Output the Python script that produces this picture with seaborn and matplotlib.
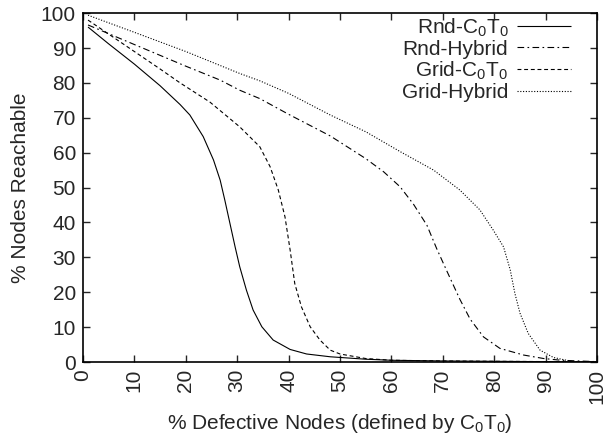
import matplotlib
matplotlib.use("Agg")
import matplotlib.pyplot as plt
import seaborn as sns
import pandas as pd

# ---- data ----
rnd_c0t0_x = [1, 5, 10, 15, 18.9, 20.8, 23.4, 25.4, 26.7, 27.6, 28.6, 29.6, 30.5, 31.8, 33.1,
              34.8, 37.0, 40.3, 43.5, 48.1, 55, 60, 70, 80, 90, 100]
rnd_c0t0_y = [96, 91.2, 85.4, 79.2, 73.8, 70.8, 64.6, 57.9, 52.1, 46.4, 39.7, 33.0, 27.3, 20.6, 14.9,
              10.1, 6.3, 3.6, 2.3, 1.5, 0.8, 0.5, 0.3, 0.2, 0.1, 0.05]

rnd_hyb_x = [1, 10, 20, 26.7, 30.5, 34.4, 40, 48.1, 55, 58.5, 61.7, 64.3, 66.9, 68.8, 70.8, 73.3,
             75.3, 77.9, 81.1, 85.7, 89.6, 93, 100]
rnd_hyb_y = [96.6, 91, 84.8, 80.8, 77.9, 75.5, 71, 64.8, 58.3, 54.5, 50.2, 45.2, 39.2, 32.5, 26.0, 18.0,
             12.3, 7.2, 3.9, 2.0, 1.0, 0.5, 0.1]

grid_c0t0_x = [1, 5, 10, 15, 18.9, 24.7, 30.5, 34.4, 36.4, 38.0, 39.3, 40.3, 41.2, 42.5, 44.2,
               46.1, 48.1, 50, 55, 60, 70, 80, 100]
grid_c0t0_y = [98, 94, 89, 84, 80, 74.5, 67.4, 61.7, 56.0, 49.3, 41.6, 32.1, 22.5, 15.8, 10.1,
               6.3, 3.4, 2.3, 1.0, 0.5, 0.3, 0.2, 0.05]

grid_hyb_x = [1, 10, 20, 30.5, 34.4, 40, 48.1, 55, 61.7, 68.2, 73.3, 77.2, 79.8, 81.8, 83.1,
              84.0, 85.0, 86.6, 88.9, 91.5, 95.3, 100]
grid_hyb_y = [99.4, 94.5, 89, 82.7, 80.6, 77, 70.8, 66, 60.3, 55.0, 49.3, 43.6, 37.8, 33.0, 26.4,
              19.7, 14.0, 8.2, 3.4, 1.3, 0.1, 0.0]

labels = ["Rnd-C$_0$T$_0$", "Rnd-Hybrid", "Grid-C$_0$T$_0$", "Grid-Hybrid"]
x_ticks = list(range(0, 101, 10))
y_ticks = list(range(0, 101, 10))

# ---- style ----
sns.set_style("ticks")
plt.rcParams["font.family"] = ["Liberation Sans", "DejaVu Sans"]
plt.rcParams["mathtext.fontset"] = "custom"
plt.rcParams["mathtext.rm"] = "Liberation Sans"
plt.rcParams["mathtext.it"] = "Liberation Sans"
plt.rcParams["mathtext.bf"] = "Liberation Sans:bold"

fig = plt.figure(figsize=(6.05, 4.37), dpi=100)
ax = fig.add_axes([0.137, 0.1716, 0.850, 0.7984])

series = [
    (rnd_c0t0_x, rnd_c0t0_y, (0, ())),
    (rnd_hyb_x, rnd_hyb_y, (0, (6, 3, 1.5, 3))),
    (grid_c0t0_x, grid_c0t0_y, (0, (3.5, 2.5))),
    (grid_hyb_x, grid_hyb_y, (0, (1, 1.5))),
]
for (xs, ys, ls), lab in zip(series, labels):
    df = pd.DataFrame({"x": xs, "y": ys})
    sns.lineplot(data=df, x="x", y="y", ax=ax, color="black", linewidth=0.8,
                 linestyle=ls, label=lab, estimator=None, sort=False)

ax.set_xlim(0, 100)
ax.set_ylim(0, 100)
ax.set_xticks(x_ticks)
ax.set_yticks(y_ticks)
ax.set_xticklabels([str(t) for t in x_ticks], rotation=90)
ax.tick_params(direction="in", top=True, right=True, length=5, width=1.0,
               labelsize=15, pad=5)
for s in ax.spines.values():
    s.set_linewidth(1.2)
    s.set_color("black")
ax.set_xlabel("% Defective Nodes (defined by C$_0$T$_0$)", fontsize=15, labelpad=6)
ax.set_ylabel("% Nodes Reachable", fontsize=15, labelpad=8)

leg = ax.legend(loc="upper right", bbox_to_anchor=(0.955, 1.0), frameon=False,
                markerfirst=False, fontsize=15, handlelength=2.6, handletextpad=0.4,
                labelspacing=0.05, borderpad=0.15, borderaxespad=0)

fig.savefig("out.png", dpi=100)
